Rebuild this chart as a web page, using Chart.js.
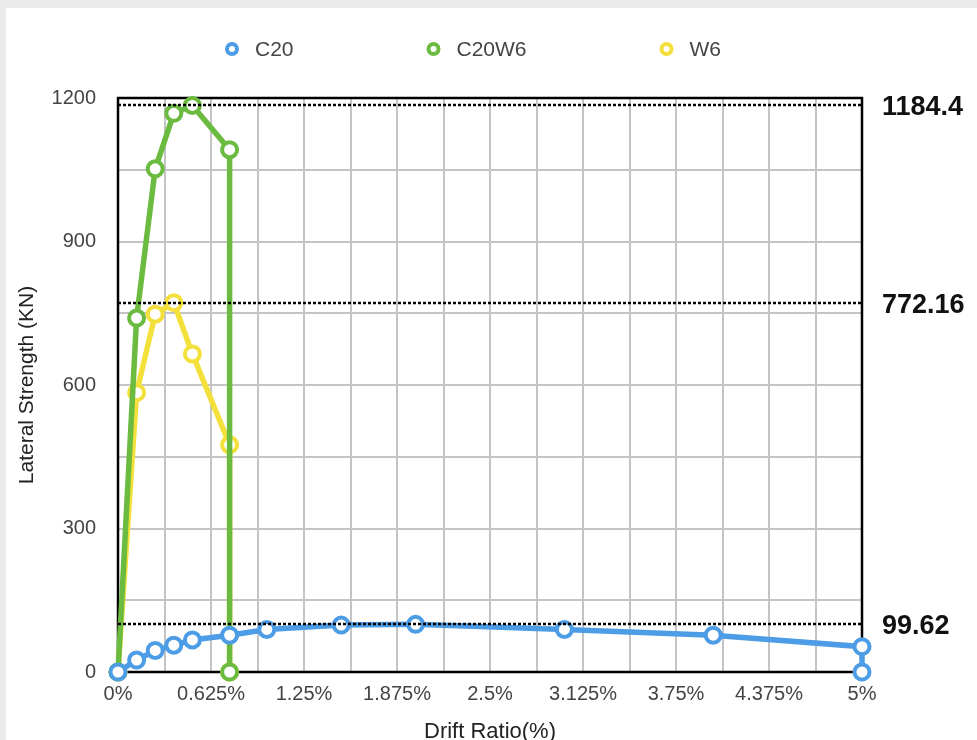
<!DOCTYPE html>
<html>
<head>
<meta charset="utf-8">
<script src="https://cdn.jsdelivr.net/npm/chart.js@4.4.1/dist/chart.umd.min.js"></script>
<style>
  body { margin: 0; background: #ebebeb; }
  #wrap { position: absolute; left: 6px; top: 8px; width: 971px; height: 732px; background: #fff; }
</style>
</head>
<body>
<div id="wrap"><canvas id="strength-chart" width="971" height="732"></canvas></div>
<script>
// drift ratio (%) / lateral strength (KN)
const c20Drift = [0, 0.125, 0.25, 0.375, 0.5, 0.75, 1.0, 1.5, 2.0, 3.0, 4.0, 5.0, 5.0];
const c20Strength = [0, 25, 45, 56, 67, 77, 89, 98, 99.62, 89, 77, 53, 0];

const c20w6Drift = [0, 0.125, 0.25, 0.375, 0.5, 0.75, 0.75];
const c20w6Strength = [0, 740, 1052, 1168, 1184.4, 1092, 0];

const w6Drift = [0, 0.125, 0.25, 0.375, 0.5, 0.75, 0.75];
const w6Strength = [0, 584, 748, 772.16, 665, 475, 0];

const seriesNames = ['C20', 'C20W6', 'W6'];
const seriesColors = ['#4d9de6', '#6bbb40', '#f3e03a'];

// dotted reference lines with their labels on the right
const peakValues = [1184.4, 772.16, 99.62];
const peakLabels = ['1184.4', '772.16', '99.62'];

// grid every step, label every other one
const xTickStep = 0.3125;
const yTickStep = 150;

function toPoints(xs, ys) {
  return xs.map((x, i) => ({ x: x, y: ys[i] }));
}

const fontFamily = '"Liberation Sans", Arial, Helvetica, sans-serif';

const framePlugin = {
  id: 'frame',
  beforeDatasetsDraw(chart) {
    const { ctx, chartArea: a } = chart;
    ctx.save();
    ctx.strokeStyle = '#000';
    ctx.lineWidth = 2.5;
    ctx.strokeRect(a.left, a.top, a.right - a.left, a.bottom - a.top);
    ctx.restore();
  },
  afterDatasetsDraw(chart) {
    const { ctx, chartArea: a } = chart;
    const yScale = chart.scales.y;
    ctx.save();
    ctx.strokeStyle = '#000';
    ctx.lineWidth = 2.5;
    ctx.setLineDash([3, 2]);
    ctx.font = 'bold 27px ' + fontFamily;
    ctx.fillStyle = '#111';
    ctx.textBaseline = 'middle';
    peakValues.forEach((v, i) => {
      const py = Math.round(yScale.getPixelForValue(v));
      ctx.beginPath();
      ctx.moveTo(a.left, py);
      ctx.lineTo(a.right, py);
      ctx.stroke();
      ctx.fillText(peakLabels[i], a.right + 20, py + 3);
    });
    ctx.restore();
  },
  afterDraw(chart) {
    // legend row on top, spaced like the original
    const ctx = chart.ctx;
    ctx.save();
    ctx.font = '21px ' + fontFamily;
    ctx.textBaseline = 'middle';
    let x = chart.chartArea.left + 114;
    const y = 41;
    chart.data.datasets.forEach(ds => {
      ctx.beginPath();
      ctx.arc(x, y, 5, 0, Math.PI * 2);
      ctx.fillStyle = '#fff';
      ctx.fill();
      ctx.lineWidth = 4;
      ctx.strokeStyle = ds.borderColor;
      ctx.stroke();
      ctx.fillStyle = '#444';
      ctx.fillText(ds.label, x + 23, y + 1);
      x += 23 + ctx.measureText(ds.label).width + 140;
    });
    ctx.restore();
  }
};

function makeDataset(i, xs, ys) {
  return {
    label: seriesNames[i],
    data: toPoints(xs, ys),
    borderColor: seriesColors[i],
    backgroundColor: seriesColors[i],
    borderWidth: 5.5,
    pointRadius: 7.5,
    pointHoverRadius: 7.5,
    pointBorderWidth: 4,
    pointHoverBorderWidth: 4,
    pointBackgroundColor: '#fff',
    pointBorderColor: seriesColors[i],
    tension: 0,
    clip: false
  };
}

const ctx = document.getElementById('strength-chart').getContext('2d');

const chart = new Chart(ctx, {
  type: 'line',
  data: {
    datasets: [
      makeDataset(0, c20Drift, c20Strength),
      makeDataset(1, c20w6Drift, c20w6Strength),
      makeDataset(2, w6Drift, w6Strength)
    ]
  },
  options: {
    responsive: false,
    animation: false,
    layout: { padding: { top: 90, right: 115, left: 0, bottom: 0 } },
    plugins: {
      legend: { display: false },
      tooltip: { enabled: false }
    },
    scales: {
      x: {
        type: 'linear',
        min: 0,
        max: 5,
        afterFit(scale) { scale.height = 68; },
        border: { display: false },
        grid: { color: '#c4c4c4', lineWidth: 2, drawTicks: false },
        ticks: {
          stepSize: xTickStep,
          autoSkip: false,
          maxRotation: 0,
          padding: 10,
          color: '#444',
          font: { family: fontFamily, size: 20 },
          callback: (v) => {
            const n = Math.round(v / xTickStep);
            return n % 2 === 0 ? parseFloat(v.toFixed(4)) + '%' : '';
          }
        },
        title: {
          display: true,
          text: 'Drift Ratio(%)',
          color: '#222',
          font: { family: fontFamily, size: 22, lineHeight: 1 },
          padding: { top: 0, bottom: -3 }
        }
      },
      y: {
        min: 0,
        max: 1200,
        afterFit(scale) { scale.width = 112; },
        border: { display: false },
        grid: { color: '#c4c4c4', lineWidth: 2, drawTicks: false },
        ticks: {
          stepSize: yTickStep,
          padding: 22,
          color: '#444',
          font: { family: fontFamily, size: 20 },
          callback: (v) => (v % 300 === 0 ? v : '')
        },
        title: {
          display: true,
          text: 'Lateral Strength (KN)',
          color: '#222',
          font: { family: fontFamily, size: 21 },
          padding: { top: 9, bottom: 0 }
        }
      }
    }
  },
  plugins: [framePlugin]
});
</script>
</body>
</html>
